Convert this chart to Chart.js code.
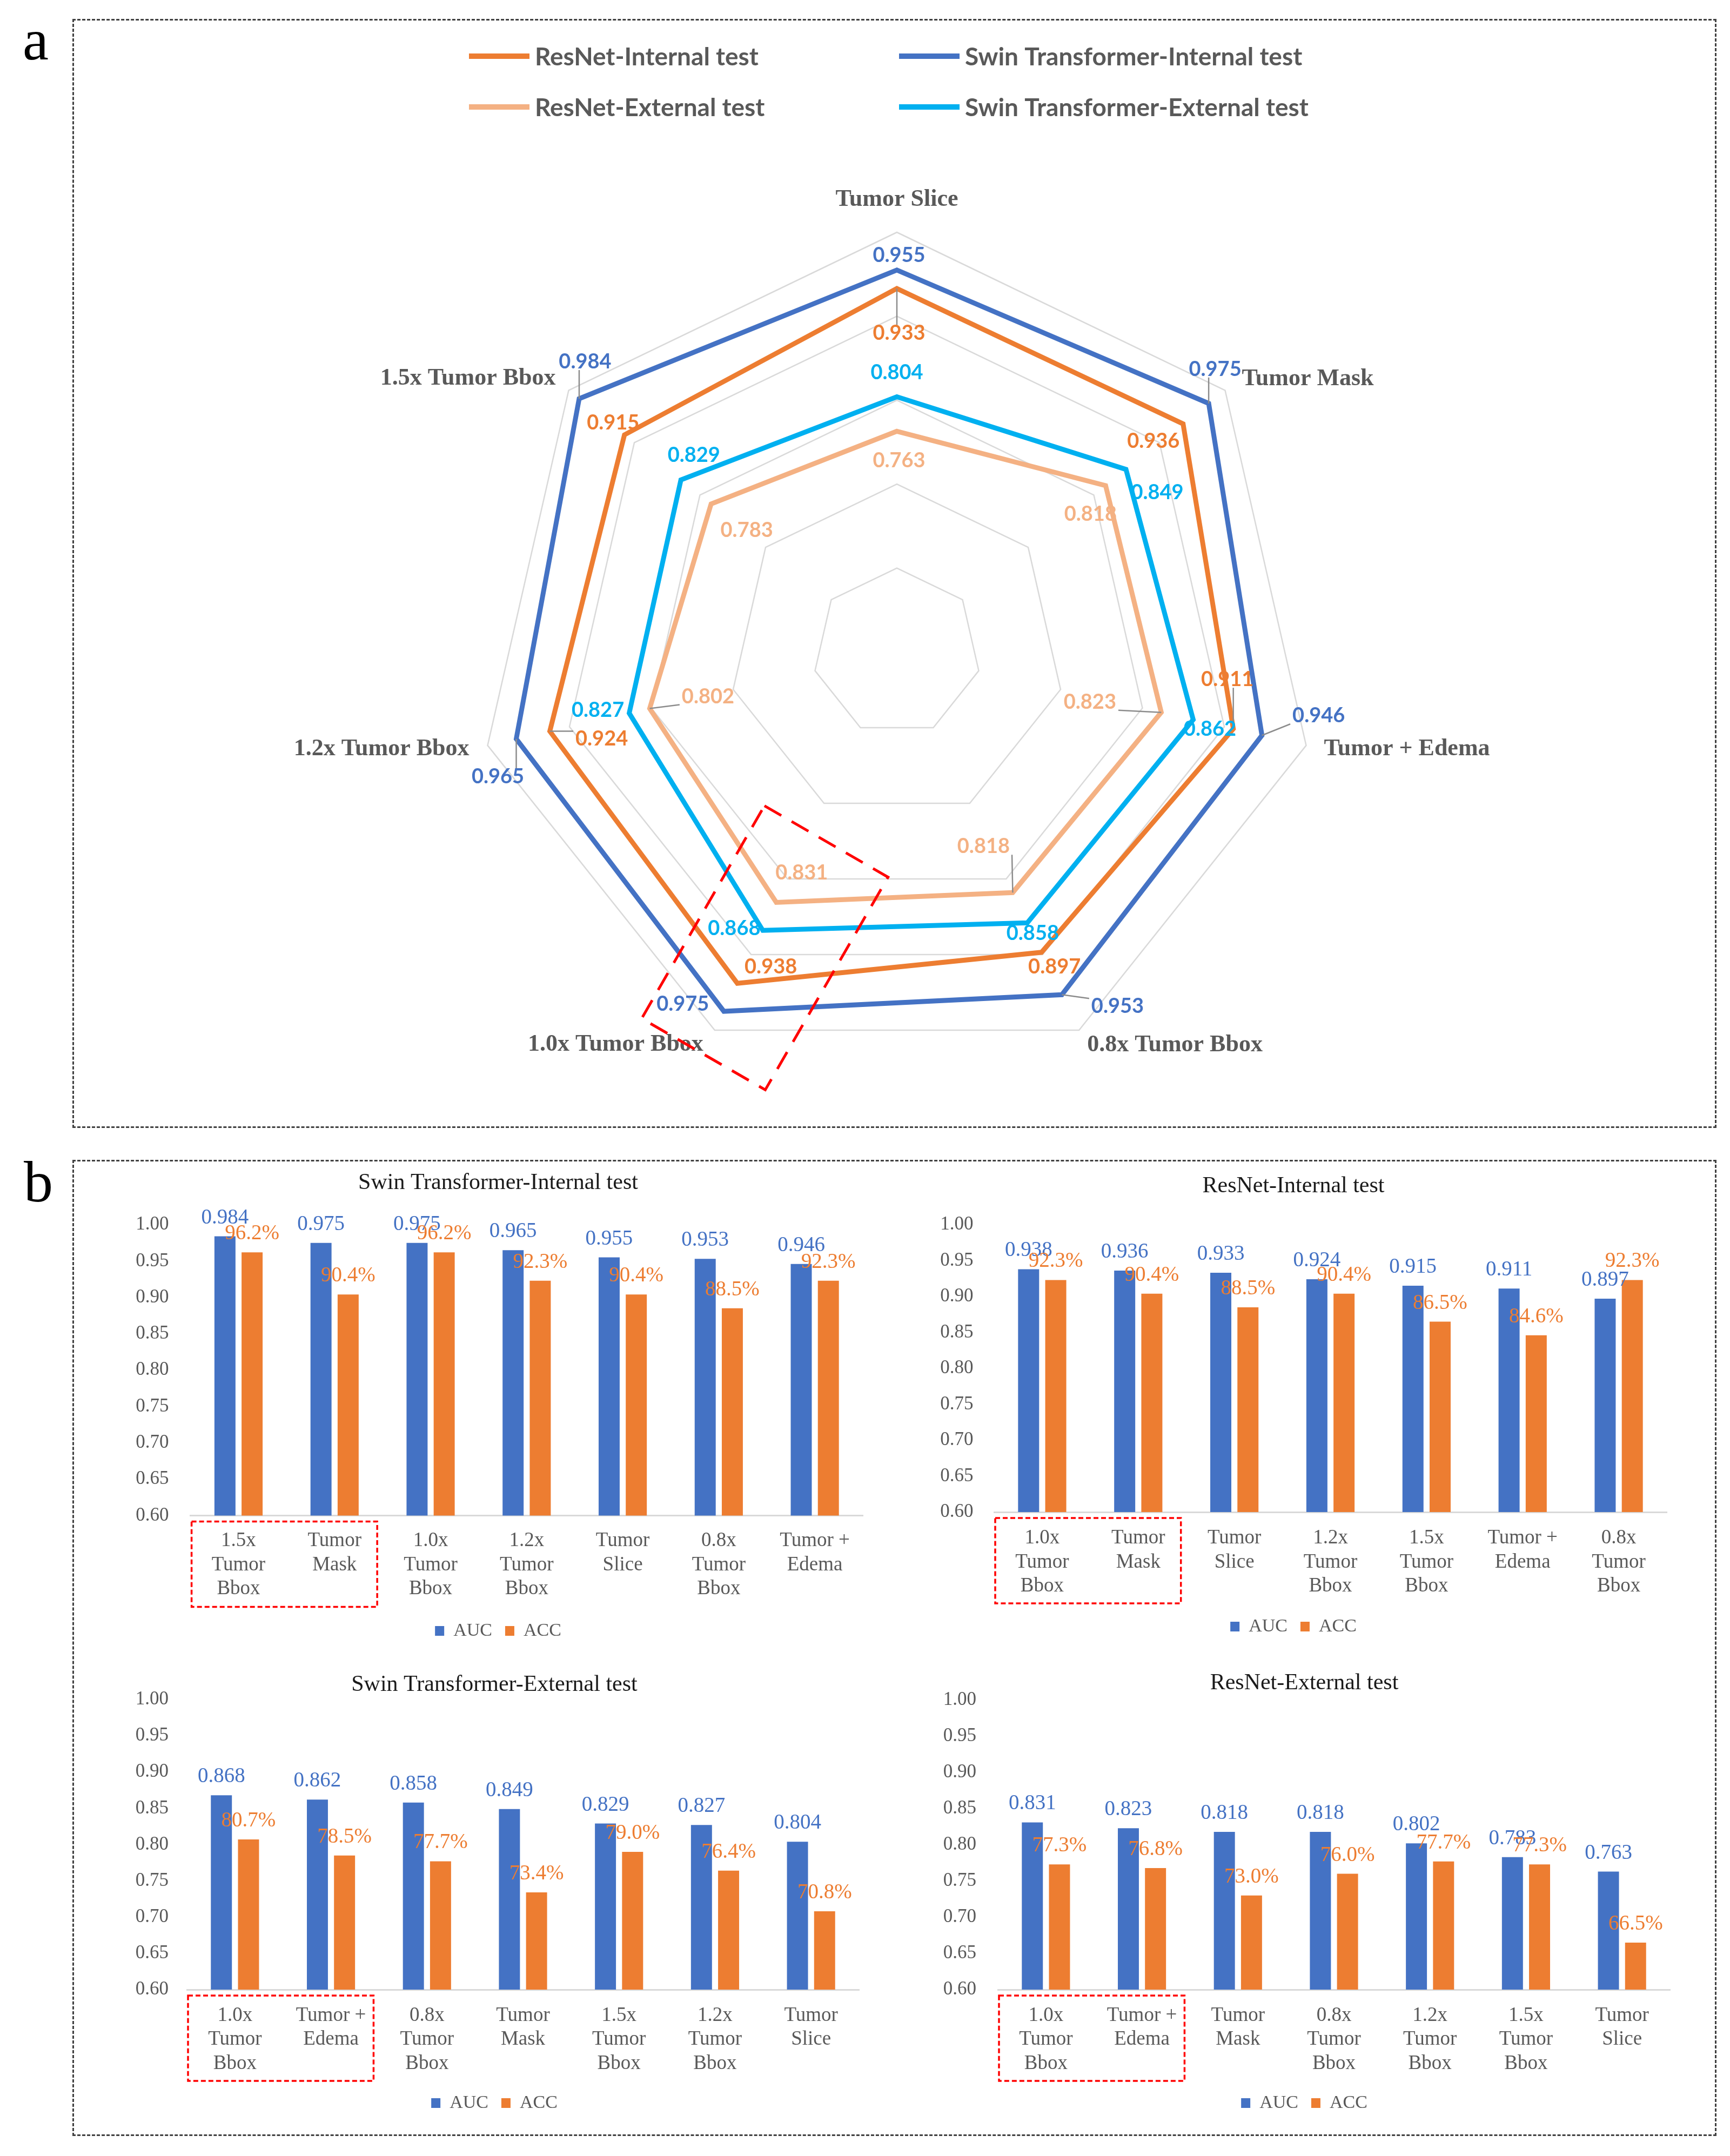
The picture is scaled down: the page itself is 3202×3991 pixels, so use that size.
<!DOCTYPE html>
<html>
<head>
<meta charset="utf-8">
<script src="https://cdn.jsdelivr.net/npm/chart.js@4.4.1/dist/chart.umd.min.js"></script>
<style>
  html, body { margin: 0; padding: 0; background: #fff; }
  #page { position: relative; width: 3202px; height: 3991px; background: #fff; overflow: hidden; }
  .box { position: absolute; border: 3px dashed #404040; box-sizing: border-box; }
  .tag { position: absolute; font-family: 'Liberation Serif', serif; font-size: 108px; line-height: 1; color: #000; }
  canvas { position: absolute; }
</style>
</head>
<body>
<div id="page">
  <div class="box" style="left:134px;top:35px;width:3043px;height:2053px"></div>
  <div class="box" style="left:134px;top:2147px;width:3043px;height:1807px"></div>
  <div class="tag" style="left:42px;top:20px">a</div>
  <div class="tag" style="left:44px;top:2134px">b</div>
  <canvas id="radar" width="3030" height="2040" style="left:140px;top:40px"></canvas>
  <canvas id="bar1" width="1440" height="900" style="left:200px;top:2150px"></canvas>
  <canvas id="bar2" width="1440" height="900" style="left:1680px;top:2150px"></canvas>
  <canvas id="bar3" width="1430" height="860" style="left:200px;top:3080px"></canvas>
  <canvas id="bar4" width="1450" height="860" style="left:1690px;top:3080px"></canvas>
</div>
<script>
// ---- radar data (panel a) ----
const radarCategories = ['Tumor Slice', 'Tumor Mask', 'Tumor + Edema', '0.8x Tumor Bbox', '1.0x Tumor Bbox', '1.2x Tumor Bbox', '1.5x Tumor Bbox'];
const resnetInternal = [0.933, 0.936, 0.911, 0.897, 0.938, 0.924, 0.915];
const swinInternal = [0.955, 0.975, 0.946, 0.953, 0.975, 0.965, 0.984];
const resnetExternal = [0.763, 0.818, 0.823, 0.818, 0.831, 0.802, 0.783];
const swinExternal = [0.804, 0.849, 0.862, 0.858, 0.868, 0.827, 0.829];
const radarMin = 0.5, radarMax = 1.0, radarStep = 0.1;

// ---- bar data (panel b) ----
const swinIntCats = ['1.5x Tumor Bbox', 'Tumor Mask', '1.0x Tumor Bbox', '1.2x Tumor Bbox', 'Tumor Slice', '0.8x Tumor Bbox', 'Tumor + Edema'];
const swinIntAUC = [0.984, 0.975, 0.975, 0.965, 0.955, 0.953, 0.946];
const swinIntACC = [96.2, 90.4, 96.2, 92.3, 90.4, 88.5, 92.3];

const resIntCats = ['1.0x Tumor Bbox', 'Tumor Mask', 'Tumor Slice', '1.2x Tumor Bbox', '1.5x Tumor Bbox', 'Tumor + Edema', '0.8x Tumor Bbox'];
const resIntAUC = [0.938, 0.936, 0.933, 0.924, 0.915, 0.911, 0.897];
const resIntACC = [92.3, 90.4, 88.5, 90.4, 86.5, 84.6, 92.3];

const swinExtCats = ['1.0x Tumor Bbox', 'Tumor + Edema', '0.8x Tumor Bbox', 'Tumor Mask', '1.5x Tumor Bbox', '1.2x Tumor Bbox', 'Tumor Slice'];
const swinExtAUC = [0.868, 0.862, 0.858, 0.849, 0.829, 0.827, 0.804];
const swinExtACC = [80.7, 78.5, 77.7, 73.4, 79.0, 76.4, 70.8];

const resExtCats = ['1.0x Tumor Bbox', 'Tumor + Edema', 'Tumor Mask', '0.8x Tumor Bbox', '1.2x Tumor Bbox', '1.5x Tumor Bbox', 'Tumor Slice'];
const resExtAUC = [0.831, 0.823, 0.818, 0.818, 0.802, 0.783, 0.763];
const resExtACC = [77.3, 76.8, 73.0, 76.0, 77.7, 77.3, 66.5];

const barMin = 0.60, barMax = 1.00, barStep = 0.05;

Chart.defaults.font.family = "'Liberation Serif', serif";

// label placement for the radar (pixels, relative to points)
const axisLabelOffsets = [[0, -60, 'center'], [31, -21, 'left'], [33, 7, 'left'], [15, 28, 'left'],
                          [-21, 27, 'right'], [-34, 7, 'right'], [-24, -22, 'right']];
const valueLabelOffsets = [
  [[4, 83], [-55, 32], [-11, -91], [24, 27], [62, -30], [96, 14], [-21, -22]],
  [[4, -27], [12, -63], [105, -36], [103, 22], [-76, -13], [-34, 70], [11, -68]],
  [[4, 54], [-28, 53], [-132, -19], [-54, -85], [47, -55], [108, -22], [66, 49]],
  [[0, -45], [58, 43], [31, 18], [10, 20], [-53, -3], [-58, -5], [24, -45]]
];
const leaders = [[0, 0], [1, 6], [1, 1], [0, 2], [1, 2], [2, 2], [1, 3], [2, 3], [1, 5], [0, 5], [2, 5]];
const legendSlots = [[728, 64], [1524, 64], [728, 158], [1524, 158]];

const radarDecor = {
  id: 'radarDecor',
  afterDatasetsDraw(chart) {
    const ctx = chart.ctx, r = chart.scales.r;
    const R = r.drawingArea, cx = r.xCenter, cy = r.yCenter;
    ctx.save();

    // axis names
    ctx.font = "bold 44px 'Liberation Serif'";
    ctx.fillStyle = '#595959';
    ctx.textBaseline = 'middle';
    chart.data.labels.forEach((lab, i) => {
      const p = r.getPointPosition(i, R);
      const o = axisLabelOffsets[i];
      ctx.textAlign = o[2];
      ctx.fillText(lab, p.x + o[0], p.y + o[1]);
    });

    // value labels
    ctx.font = 'bold 38px Lato';
    ctx.textAlign = 'center';
    chart.data.datasets.forEach((ds, d) => {
      chart.getDatasetMeta(d).data.forEach((pt, i) => {
        const o = valueLabelOffsets[d][i];
        const text = ds.data[i].toFixed(3);
        const lx = pt.x + o[0], ly = pt.y + o[1];
        if (leaders.some(l => l[0] === d && l[1] === i)) {
          const hw = ctx.measureText(text).width / 2 + 4, hh = 15;
          const ex = Math.min(Math.max(pt.x, lx - hw), lx + hw);
          const ey = Math.min(Math.max(pt.y, ly - hh), ly + hh);
          ctx.strokeStyle = '#8c8c8c';
          ctx.lineWidth = 2.5;
          ctx.beginPath();
          ctx.moveTo(pt.x, pt.y);
          ctx.lineTo(ex, ey);
          ctx.stroke();
        }
        ctx.fillStyle = ds.borderColor;
        ctx.fillText(text, lx, ly);
      });
    });

    // red dashed highlight along the 1.0x axis
    const ang = 120 * Math.PI / 180;
    const U = [Math.cos(ang), Math.sin(ang)], P = [Math.sin(ang), -Math.cos(ang)];
    const corner = (u, p) => [cx + (u * U[0] + p * P[0]) * R, cy + (u * U[1] + p * P[1]) * R];
    const pts = [corner(0.475, -0.09), corner(0.475, 0.25), corner(1.06, 0.25), corner(1.06, -0.09)];
    ctx.strokeStyle = '#FF0000';
    ctx.lineWidth = 5;
    ctx.setLineDash([36, 22]);
    ctx.beginPath();
    ctx.moveTo(pts[0][0], pts[0][1]);
    pts.slice(1).forEach(q => ctx.lineTo(q[0], q[1]));
    ctx.closePath();
    ctx.stroke();
    ctx.setLineDash([]);

    // legend in two columns
    ctx.font = 'bold 46px Lato';
    ctx.textAlign = 'left';
    chart.data.datasets.forEach((ds, d) => {
      const [x, y] = legendSlots[d];
      ctx.strokeStyle = ds.borderColor;
      ctx.lineWidth = 10;
      ctx.beginPath();
      ctx.moveTo(x, y);
      ctx.lineTo(x + 112, y);
      ctx.stroke();
      ctx.fillStyle = '#595959';
      ctx.fillText(ds.label, x + 122, y + 2);
    });
    ctx.restore();
  }
};

const radarLine = (label, data, color) => ({
  label, data, borderColor: color, backgroundColor: 'transparent',
  borderWidth: 9, pointRadius: 0, fill: false, tension: 0
});

new Chart(document.getElementById('radar'), {
  type: 'radar',
  data: {
    labels: radarCategories,
    datasets: [
      radarLine('ResNet-Internal test', resnetInternal, '#ED7D31'),
      radarLine('Swin Transformer-Internal test', swinInternal, '#4472C4'),
      radarLine('ResNet-External test', resnetExternal, '#F4B183'),
      radarLine('Swin Transformer-External test', swinExternal, '#00B0F0')
    ]
  },
  options: {
    responsive: false,
    animation: false,
    layout: { padding: { left: 742.5, right: 732.5, top: 390, bottom: 95 } },
    plugins: { legend: { display: false }, tooltip: { enabled: false } },
    scales: {
      r: {
        min: radarMin, max: radarMax,
        ticks: { display: false, stepSize: radarStep },
        angleLines: { display: false },
        grid: { color: '#D9D9D9', lineWidth: 2.5 },
        pointLabels: { display: false }
      }
    }
  },
  plugins: [radarDecor]
});

// ---- bar charts ----
function splitCat(c) {
  if (c === 'Tumor + Edema') return ['Tumor +', 'Edema'];
  return c.split(' ');
}

const barLabels = {
  id: 'barLabels',
  afterDatasetsDraw(chart) {
    const ctx = chart.ctx;
    ctx.save();
    ctx.font = "39px 'Liberation Serif'";
    ctx.textAlign = 'center';
    ctx.textBaseline = 'alphabetic';
    chart.data.datasets.forEach((ds, d) => {
      chart.getDatasetMeta(d).data.forEach((bar, i) => {
        const text = d === 0 ? ds.data[i].toFixed(3) : ds.pct[i].toFixed(1) + '%';
        ctx.fillStyle = ds.backgroundColor;
        ctx.fillText(text, bar.x, bar.y - 24);
      });
    });
    // red dashed box round the first two category labels
    const x = chart.scales.x, ca = chart.chartArea;
    const cw = x.getPixelForValue(1) - x.getPixelForValue(0);
    const x0 = ca.left + 2, x1 = ca.left + 2 * cw - 10;
    ctx.strokeStyle = '#FF0000';
    ctx.lineWidth = 3.5;
    ctx.setLineDash([9, 5]);
    ctx.strokeRect(x0, ca.bottom + 11, x1 - x0, 158);
    ctx.restore();
  }
};

function makeBar(id, title, cats, auc, acc, g) {
  new Chart(document.getElementById(id), {
    type: 'bar',
    data: {
      labels: cats.map(splitCat),
      datasets: [
        { label: 'AUC', data: auc, backgroundColor: '#4472C4', borderWidth: 0,
          barPercentage: 0.776, categoryPercentage: 0.565 },
        { label: 'ACC', data: acc.map(v => v / 100), pct: acc, backgroundColor: '#ED7D31', borderWidth: 0,
          barPercentage: 0.776, categoryPercentage: 0.565 }
      ]
    },
    options: {
      responsive: false,
      animation: false,
      layout: { padding: { left: g.padLeft, right: g.padRight, top: 0, bottom: g.padBottom } },
      plugins: {
        title: {
          display: true, text: title, color: '#1a1a1a',
          font: { size: 42, weight: 'normal', lineHeight: 1.2 },
          padding: { top: g.titleTop, bottom: g.titleBottom }
        },
        legend: {
          position: 'bottom',
          labels: { boxWidth: 17, boxHeight: 18, padding: 24, color: '#595959', font: { size: 34 } }
        },
        tooltip: { enabled: false }
      },
      scales: {
        x: {
          grid: { display: false, drawTicks: false },
          border: { display: true, color: '#D9D9D9', width: 3 },
          ticks: { color: '#595959', font: { size: 37, lineHeight: 1.2 }, padding: g.xPad,
                   maxRotation: 0, autoSkip: false },
          afterFit: s => { s.height = g.xh; }
        },
        y: {
          min: barMin, max: barMax,
          grid: { display: false, drawTicks: false },
          border: { display: false },
          ticks: { stepSize: barStep, color: '#595959', font: { size: 35 }, padding: g.yPad,
                   callback: v => v.toFixed(2) },
          afterFit: s => { s.width = g.yw; }
        }
      }
    },
    plugins: [barLabels]
  });
}

makeBar('bar1', 'Swin Transformer-Internal test', swinIntCats, swinIntAUC, swinIntACC,
  { padLeft: 47, padRight: 43, padBottom: 4, titleTop: 14.8, titleBottom: 51.8, yw: 105.6, yPad: 40, xh: 172.4, xPad: 24.8 });
makeBar('bar2', 'ResNet-Internal test', resIntCats, resIntAUC, resIntACC,
  { padLeft: 23, padRight: 35, padBottom: 12, titleTop: 20.8, titleBottom: 45.8, yw: 137, yPad: 38.6, xh: 171, xPad: 26.3 });
makeBar('bar3', 'Swin Transformer-External test', swinExtCats, swinExtAUC, swinExtACC,
  { padLeft: 40, padRight: 40, padBottom: 20, titleTop: 13.8, titleBottom: 1.8, yw: 106, yPad: 34, xh: 169, xPad: 25.8 });
makeBar('bar4', 'ResNet-External test', resExtCats, resExtAUC, resExtACC,
  { padLeft: 47, padRight: 49, padBottom: 20, titleTop: 10.8, titleBottom: 5.8, yw: 110, yPad: 40, xh: 169, xPad: 25.8 });
</script>
</body>
</html>
